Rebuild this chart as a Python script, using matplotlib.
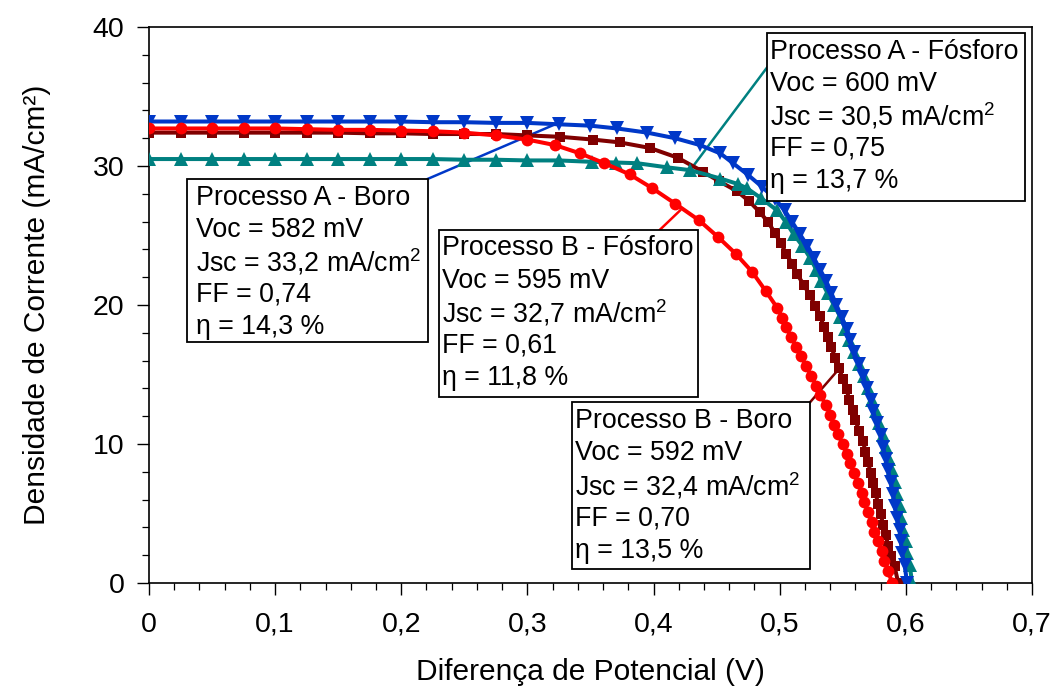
import matplotlib
matplotlib.use("Agg")
import matplotlib.pyplot as plt
from matplotlib.patches import Rectangle

plt.rcParams['font.family'] = ['Liberation Sans', 'DejaVu Sans']
plt.rcParams['mathtext.fontset'] = 'custom'
plt.rcParams['mathtext.rm'] = 'Liberation Sans'

# Curvas J-V (V em volts, J em mA/cm2)
v_a_boro = [0.000, 0.025, 0.050, 0.075, 0.100, 0.125, 0.150, 0.175, 0.200, 0.225,
            0.250, 0.275, 0.300, 0.325, 0.350, 0.371, 0.395, 0.417, 0.437, 0.453,
            0.463, 0.475, 0.486, 0.496, 0.504, 0.510, 0.516, 0.522, 0.527, 0.532,
            0.537, 0.541, 0.545, 0.549, 0.553, 0.556, 0.559, 0.563, 0.566, 0.569,
            0.572, 0.574, 0.577, 0.580, 0.582, 0.584, 0.586, 0.588, 0.590, 0.591,
            0.593, 0.595, 0.596, 0.597, 0.599, 0.601]
j_a_boro = [33.2, 33.2, 33.2, 33.2, 33.2, 33.2, 33.2, 33.2, 33.2, 33.15,
            33.15, 33.1, 33.1, 33.0, 32.9, 32.7, 32.4, 32.0, 31.5, 30.9,
            30.2, 29.35, 28.5, 27.65, 26.8, 25.95, 25.1, 24.25, 23.4, 22.55,
            21.7, 20.85, 20.0, 19.15, 18.3, 17.45, 16.6, 15.75, 14.9, 14.05,
            13.2, 12.35, 11.5, 10.65, 9.8, 8.95, 8.1, 7.25, 6.4, 5.55,
            4.7, 3.85, 3.0, 2.15, 1.3, 0.0]

v_a_fosf = [0.000, 0.025, 0.050, 0.075, 0.100, 0.125, 0.150, 0.175, 0.200, 0.225,
            0.250, 0.275, 0.300, 0.325, 0.351, 0.370, 0.387, 0.411, 0.429, 0.453,
            0.467, 0.474, 0.485, 0.498, 0.505, 0.511, 0.518, 0.524, 0.529, 0.533,
            0.538, 0.543, 0.548, 0.552, 0.555, 0.559, 0.563, 0.567, 0.570, 0.573,
            0.576, 0.579, 0.582, 0.584, 0.587, 0.589, 0.591, 0.593, 0.595, 0.596,
            0.598, 0.600, 0.601, 0.603, 0.605]
j_a_fosf = [30.5, 30.5, 30.5, 30.5, 30.5, 30.5, 30.5, 30.5, 30.5, 30.5,
            30.45, 30.45, 30.4, 30.4, 30.3, 30.25, 30.2, 29.9, 29.7, 29.1,
            28.7, 28.4, 27.7, 26.8, 25.95, 25.1, 24.25, 23.4, 22.55, 21.7,
            20.85, 20.0, 19.15, 18.3, 17.45, 16.6, 15.75, 14.9, 14.05, 13.2,
            12.35, 11.5, 10.65, 9.8, 8.95, 8.1, 7.25, 6.4, 5.55, 4.7,
            3.85, 3.0, 2.15, 1.3, 0.0]

v_b_fosf = [0.000, 0.025, 0.050, 0.075, 0.100, 0.125, 0.150, 0.175, 0.200, 0.225,
            0.250, 0.275, 0.300, 0.322, 0.342, 0.361, 0.381, 0.399, 0.417, 0.436,
            0.451, 0.465, 0.478, 0.489, 0.498, 0.502, 0.505, 0.509, 0.513, 0.517,
            0.521, 0.525, 0.529, 0.532, 0.537, 0.540, 0.543, 0.546, 0.550, 0.553,
            0.556, 0.559, 0.562, 0.565, 0.567, 0.570, 0.573, 0.575, 0.578, 0.581,
            0.583, 0.586, 0.589]
j_b_fosf = [32.7, 32.7, 32.7, 32.7, 32.7, 32.65, 32.6, 32.6, 32.55, 32.5,
            32.4, 32.2, 31.9, 31.5, 30.9, 30.2, 29.4, 28.4, 27.3, 26.1,
            24.9, 23.7, 22.4, 21.0, 19.8, 19.1, 18.4, 17.7, 17.0, 16.3,
            15.6, 14.9, 14.2, 13.5, 12.8, 12.1, 11.4, 10.7, 10.0, 9.3,
            8.6, 7.9, 7.2, 6.5, 5.8, 5.1, 4.4, 3.7, 3.0, 2.3,
            1.6, 0.9, 0.0]

v_b_boro = [0.000, 0.025, 0.050, 0.075, 0.100, 0.125, 0.150, 0.175, 0.200, 0.225,
            0.250, 0.275, 0.300, 0.326, 0.352, 0.373, 0.397, 0.419, 0.439, 0.452,
            0.466, 0.476, 0.484, 0.491, 0.496, 0.501, 0.505, 0.510, 0.514, 0.519,
            0.524, 0.528, 0.532, 0.535, 0.538, 0.541, 0.544, 0.547, 0.550, 0.553,
            0.555, 0.558, 0.560, 0.563, 0.566, 0.568, 0.570, 0.572, 0.574, 0.576,
            0.578, 0.580, 0.582, 0.584, 0.586, 0.588, 0.591, 0.594]
j_b_boro = [32.4, 32.4, 32.4, 32.4, 32.4, 32.4, 32.4, 32.35, 32.35, 32.3,
            32.3, 32.3, 32.2, 32.1, 31.9, 31.7, 31.3, 30.6, 29.6, 28.9,
            28.2, 27.45, 26.7, 25.95, 25.2, 24.45, 23.7, 22.95, 22.2, 21.45,
            20.7, 19.95, 19.2, 18.45, 17.7, 16.95, 16.2, 15.45, 14.7, 13.95,
            13.2, 12.45, 11.7, 10.95, 10.2, 9.45, 8.7, 7.95, 7.2, 6.45,
            5.7, 4.95, 4.2, 3.45, 2.7, 1.95, 1.2, 0.0]

x_ticks = [0.0, 0.1, 0.2, 0.3, 0.4, 0.5, 0.6, 0.7]
x_tick_labels = ['0', '0,1', '0,2', '0,3', '0,4', '0,5', '0,6', '0,7']
y_ticks = [0, 10, 20, 30, 40]

# Caixas de parametros: texto, cor, caixa (x0, y0, x1, y1), recuo do texto,
# ligacao (xa, ya) -> (xb, yb)
labels = [
    (["Processo A - Boro", "Voc = 582 mV", "Jsc = 33,2 mA/cm$^\\mathregular{2}$",
      "FF = 0,74", "\u03b7 = 14,3 %"],
     '#0038C8', (0.0301, 17.31, 0.2212, 29.08), 0.0068, (0.2212, 29.08), (0.322, 33.0)),
    (["Processo B - F\u00f3sforo", "Voc = 595 mV", "Jsc = 32,7 mA/cm$^\\mathregular{2}$",
      "FF = 0,61", "\u03b7 = 11,8 %"],
     '#FF0000', (0.2299, 13.36, 0.4352, 25.42), 0.0025, (0.4051, 25.42), (0.421, 26.8)),
    (["Processo A - F\u00f3sforo", "Voc = 600 mV", "Jsc = 30,5 mA/cm$^\\mathregular{2}$",
      "FF = 0,75", "\u03b7 = 13,7 %"],
     '#008080', (0.4899, 27.50, 0.6945, 39.57), 0.0025, (0.4899, 37.08), (0.429, 29.7)),
    (["Processo B - Boro", "Voc = 592 mV", "Jsc = 32,4 mA/cm$^\\mathregular{2}$",
      "FF = 0,70", "\u03b7 = 13,5 %"],
     '#800000', (0.3353, 1.0, 0.5240, 13.0), 0.0025, (0.5240, 13.0), (0.546, 15.3)),
]

fig = plt.figure(figsize=(10.52, 6.90), dpi=100)
ax = fig.add_axes([0.1416, 0.155, 0.981 - 0.1416, 0.9609 - 0.155])

lw = 2.9
ax.plot(v_b_boro, j_b_boro, color='#800000', lw=lw, marker='s', ms=7.5,
        markeredgewidth=0, zorder=3)
ax.plot(v_a_fosf, j_a_fosf, color='#008080', lw=lw, marker='^', ms=9.5,
        markeredgewidth=0, zorder=4)
ax.plot(v_a_boro, j_a_boro, color='#0038C8', lw=lw, marker='v', ms=9.5,
        markeredgewidth=0, zorder=5)
ax.plot(v_b_fosf, j_b_fosf, color='#FF0000', lw=lw, marker='o', ms=8.5,
        markeredgewidth=0, zorder=6)

fs_box = 19.3
line_step = 2.33  # espacamento entre linhas em mA/cm2
for lines, color, (x0, y0, x1, y1), pad, (xa, ya), (xb, yb) in labels:
    ax.plot([xa, xb], [ya, yb], color=color, lw=1.8, zorder=2, clip_on=False)
    ax.add_patch(Rectangle((x0, y0), x1 - x0, y1 - y0, facecolor='white',
                           edgecolor='black', lw=1.3, zorder=7))
    ytop = y1 - 1.35
    for i, s in enumerate(lines):
        ax.text(x0 + pad, ytop - i * line_step, s, fontsize=fs_box,
                ha='left', va='center', zorder=8)

ax.set_xlim(0, 0.7)
ax.set_ylim(0, 40)
ax.set_xticks(x_ticks)
ax.set_xticklabels(x_tick_labels)
ax.set_yticks(y_ticks)
ax.set_xticks([i * 0.02 for i in range(36)], minor=True)
ax.set_yticks(list(range(0, 41, 2)), minor=True)
ax.tick_params(which='major', length=8.6, width=1.0, labelsize=20.5,
               direction='out', colors='black')
ax.tick_params(axis='x', which='major', pad=12)
ax.tick_params(axis='y', which='major', pad=9)
ax.tick_params(which='minor', length=4.7, width=0.9, direction='out')
for sp in ax.spines.values():
    sp.set_linewidth(1.2)
    sp.set_color('black')

ax.set_xlabel('Diferen\u00e7a de Potencial (V)', fontsize=21.5, labelpad=15)
ax.set_ylabel('Densidade de Corrente (mA/cm\u00b2)', fontsize=21.5, labelpad=30)

fig.savefig('out.png', dpi=100)
